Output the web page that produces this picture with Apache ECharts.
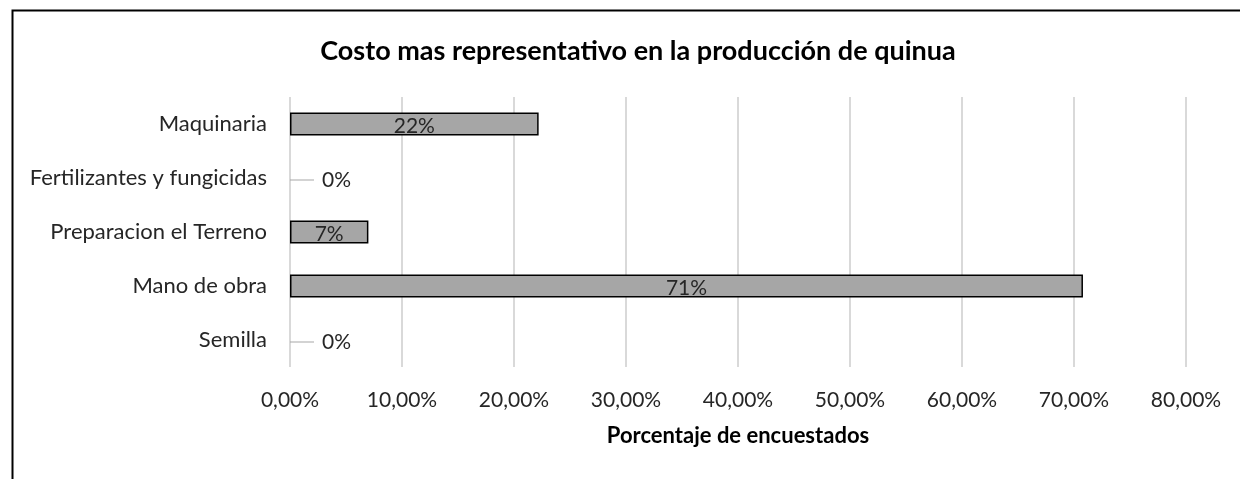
<!DOCTYPE html>
<html>
<head>
<meta charset="utf-8">
<script src="https://cdn.jsdelivr.net/npm/echarts@6/dist/echarts.min.js"></script>
<style>
html,body{margin:0;padding:0;background:#fff;}
#chart{width:1240px;height:479px;}
</style>
</head>
<body>
<div id="chart"></div>
<script>
// Data (bottom to top order as drawn by category axis)
const categories = ['Semilla', 'Mano de obra', 'Preparacion el Terreno', 'Fertilizantes y fungicidas', 'Maquinaria'];
const values = [0, 0.708, 0.07, 0, 0.222];
const tickValues = [0, 0.1, 0.2, 0.3, 0.4, 0.5, 0.6, 0.7, 0.8];
const titleText = 'Costo mas representativo en la producción de quinua';
const xAxisName = 'Porcentaje de encuestados';

const FONT = 'Lato';
const chart = echarts.init(document.getElementById('chart'));

const barData = values.map(v => {
  const zero = v === 0;
  return {
    value: v,
    itemStyle: zero ? { borderWidth: 0 } : {},
    label: zero ? {
      position: 'right',
      distance: 0,
      formatter: '{l|}{t|' + Math.round(v * 100) + '%}'
    } : {}
  };
});

chart.setOption({
  animation: false,
  title: {
    text: titleText,
    left: 633,
    textAlign: 'center',
    top: 33,
    textStyle: { fontFamily: FONT, fontWeight: 'bold', fontSize: 27, color: '#000' }
  },
  graphic: [{
    type: 'rect',
    left: 10, top: 8,
    shape: { width: 1300, height: 600 },
    style: { fill: 'none', stroke: '#000', lineWidth: 2 },
    silent: true
  }],
  grid: { left: 290, right: 54, top: 97, bottom: 112 },
  xAxis: {
    type: 'value',
    min: 0, max: 0.8, interval: 0.1,
    name: xAxisName,
    nameLocation: 'middle',
    nameGap: 58,
    nameTextStyle: { fontFamily: FONT, fontWeight: 'bold', fontSize: 22, color: '#000', verticalAlign: 'top' },
    axisLine: { show: false },
    axisTick: { show: false },
    axisLabel: {
      margin: 23,
      fontFamily: FONT, fontSize: 21, color: '#262626',
      formatter: v => {
        const idx = tickValues.findIndex(t => Math.abs(t - v) < 1e-9);
        const t = idx >= 0 ? tickValues[idx] : v;
        return (t * 100).toFixed(2).replace('.', ',') + '%';
      }
    },
    splitLine: { show: true, lineStyle: { color: '#d9d9d9', width: 2 } }
  },
  yAxis: {
    type: 'category',
    data: categories,
    axisLine: { show: false },
    axisTick: { show: false },
    axisLabel: { margin: 23, fontFamily: FONT, fontSize: 22, color: '#262626' },
    splitLine: { show: false }
  },
  series: [{
    type: 'bar',
    data: barData,
    barWidth: 23,
    itemStyle: { color: '#a6a6a6', borderColor: '#000', borderWidth: 1.5 },
    label: {
      show: true,
      position: 'inside',
      offset: [0, 2],
      fontFamily: FONT, fontSize: 21, color: '#262626',
      formatter: p => Math.round(p.value * 100) + '%',
      rich: {
        l: { width: 24, height: 1, backgroundColor: '#a6a6a6' },
        t: { fontFamily: FONT, fontSize: 21, color: '#262626', padding: [0, 0, 0, 8] }
      }
    }
  }]
});
</script>
</body>
</html>
